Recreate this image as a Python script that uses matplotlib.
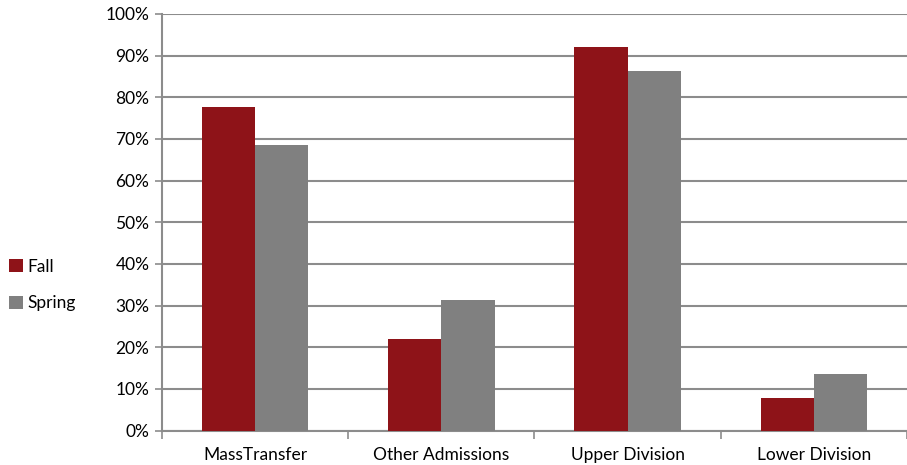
import numpy as np
import matplotlib.pyplot as plt
from matplotlib.ticker import FuncFormatter, FixedLocator

categories = ["MassTransfer", "Other Admissions", "Upper Division", "Lower Division"]
fall = [77.7, 22.1, 92.0, 7.8]
spring = [68.5, 31.3, 86.3, 13.6]

plt.rcParams["font.family"] = ["Lato", "DejaVu Sans"]
grey = "#8c8c8c"

fig = plt.figure(figsize=(9.07, 4.65), dpi=100)
ax = fig.add_axes([0.1786, 0.074, 0.8214, 0.896])

x = np.arange(len(categories))
w = 1 / 3.5
b1 = ax.bar(x - w / 2, fall, w, color="#8e1318", label="Fall", zorder=3)
b2 = ax.bar(x + w / 2, spring, w, color="#808080", label="Spring", zorder=3)

ax.set_ylim(0, 100)
ax.set_xlim(-0.5, len(categories) - 0.5)
ax.set_yticks(np.arange(0, 101, 10))
ax.yaxis.set_major_formatter(FuncFormatter(lambda v, p: "%d%%" % v))
ax.yaxis.grid(True, color=grey, linewidth=1.5, zorder=0)
ax.tick_params(axis="y", length=5, width=1.2, color=grey, labelsize=12.5, pad=4)

ax.set_xticks(x)
ax.set_xticklabels(categories, fontsize=12.5)
ax.xaxis.set_minor_locator(FixedLocator(np.arange(-0.5, len(categories), 1)))
ax.tick_params(axis="x", which="major", length=0, pad=12)
ax.tick_params(axis="x", which="minor", length=6, width=1.2, color=grey)

for s in ["top", "right"]:
    ax.spines[s].set_visible(False)
for s in ["left", "bottom"]:
    ax.spines[s].set_color(grey)
    ax.spines[s].set_linewidth(1.5)

fig.legend(handles=[b1, b2], loc="center left", bbox_to_anchor=(0.0, 0.387),
           frameon=False, fontsize=12.5, handlelength=0.8, handleheight=0.8,
           handletextpad=0.3, labelspacing=1.2, borderaxespad=0.2, borderpad=0.3)

fig.savefig("out.png", dpi=100)
